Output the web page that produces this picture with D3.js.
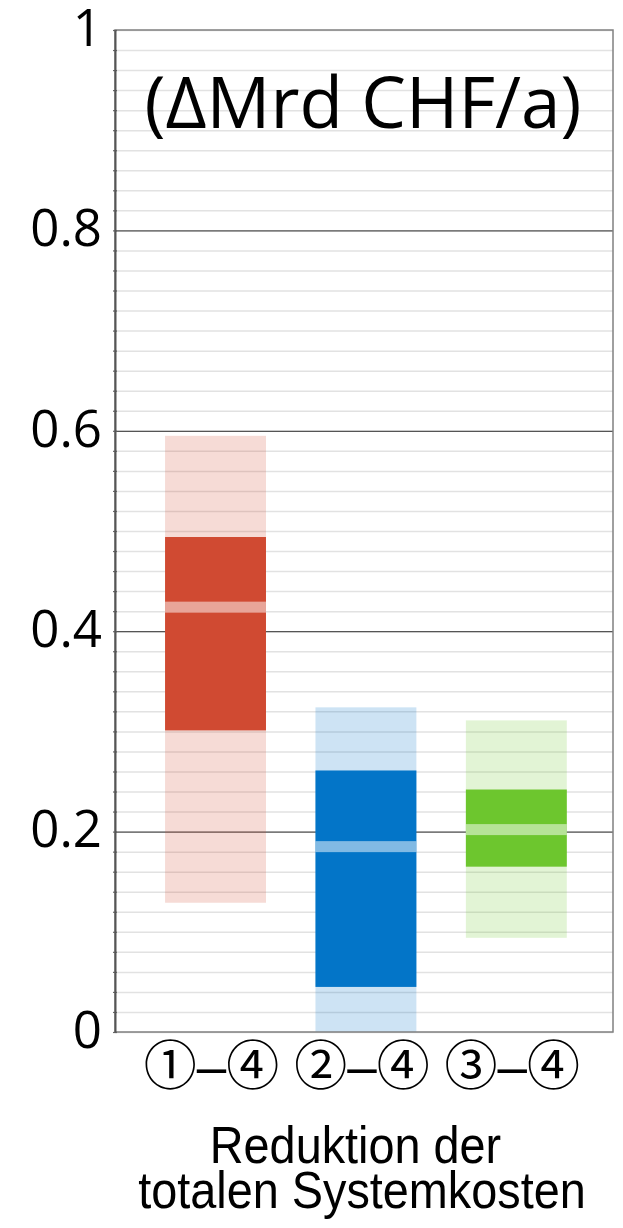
<!DOCTYPE html>
<html>
<head>
<meta charset="utf-8">
<script src="https://cdn.jsdelivr.net/npm/d3@7"></script>
<style>
  body { margin: 0; background: #fff; }
</style>
</head>
<body>
<div id="canvas"></div>
<script>
// categories and ranges (Mrd CHF/a)
var categories = ["①–④", "②–④", "③–④"];
var rangeLow = [0.129, 0.0, 0.094];
var rangeHigh = [0.595, 0.324, 0.311];
var coreLow = [0.301, 0.045, 0.165];
var coreHigh = [0.494, 0.261, 0.242];
var median = [0.424, 0.185, 0.202];
var yTicks = [0, 0.2, 0.4, 0.6, 0.8, 1];
var majorLines = [0.2, 0.4, 0.6, 0.8];
var unitLabel = "(ΔMrd CHF/a)";
var axisTitle = ["Reduktion der", "totalen Systemkosten"];

var colors = ["#D04A32", "#0375C8", "#6DC62E"];

var W = 623, H = 1228;
var margin = { top: 30, right: 10, bottom: 196, left: 115 };
var width = W - margin.left - margin.right;
var height = H - margin.top - margin.bottom;

var rows = categories.map(function (c, i) {
  return { cat: c, lo: rangeLow[i], hi: rangeHigh[i], clo: coreLow[i], chi: coreHigh[i], med: median[i], color: colors[i] };
});

var svg = d3.select("#canvas").append("svg")
  .attr("width", W)
  .attr("height", H);

var g = svg.append("g")
  .attr("transform", "translate(" + margin.left + "," + margin.top + ")");

var x = d3.scaleBand().domain(categories).range([0, width])
  .paddingInner(0.329).paddingOuter(0.32).align(0.52);
var y = d3.scaleLinear().domain([0, 1]).range([height, 0]);

// minor gridlines every 0.02
g.append("g")
  .call(d3.axisLeft(y).ticks(50).tickSize(-width).tickFormat(""))
  .call(function (s) {
    s.select(".domain").remove();
    s.selectAll("line").attr("stroke", "#e2e2e2").attr("stroke-width", 1.5);
  });

// major gridlines
g.append("g")
  .call(d3.axisLeft(y).tickValues(majorLines).tickSize(-width).tickFormat(""))
  .call(function (s) {
    s.select(".domain").remove();
    s.selectAll("line").attr("stroke", "#555").attr("stroke-width", 1.2);
  });

// outer range (translucent)
g.selectAll(".range").data(rows).enter().append("rect")
  .attr("class", "range")
  .attr("x", function (d) { return x(d.cat); })
  .attr("width", x.bandwidth())
  .attr("y", function (d) { return y(d.hi); })
  .attr("height", function (d) { return y(d.lo) - y(d.hi); })
  .attr("fill", function (d) { return d.color; })
  .attr("fill-opacity", 0.2);

// core range
g.selectAll(".core").data(rows).enter().append("rect")
  .attr("class", "core")
  .attr("x", function (d) { return x(d.cat); })
  .attr("width", x.bandwidth())
  .attr("y", function (d) { return y(d.chi); })
  .attr("height", function (d) { return y(d.clo) - y(d.chi); })
  .attr("fill", function (d) { return d.color; });

// median band
g.selectAll(".med").data(rows).enter().append("rect")
  .attr("class", "med")
  .attr("x", function (d) { return x(d.cat); })
  .attr("width", x.bandwidth())
  .attr("y", function (d) { return y(d.med) - 5.5; })
  .attr("height", 11)
  .attr("fill", "#fff")
  .attr("fill-opacity", 0.5);

// frame
g.append("rect")
  .attr("width", width).attr("height", height)
  .attr("fill", "none").attr("stroke", "#808080").attr("stroke-width", 1.5);

// small ticks across the left axis
g.append("g")
  .attr("transform", "translate(2,0)")
  .call(d3.axisLeft(y).ticks(50).tickSize(4).tickFormat(""))
  .call(function (s) {
    s.select(".domain").remove();
    s.selectAll("line").attr("stroke", "#666").attr("stroke-width", 1.2);
  });

// y axis with labels
g.append("g")
  .call(d3.axisLeft(y).tickValues(yTicks).tickSize(0).tickPadding(13)
    .tickFormat(function (d) { return d3.format("~g")(d); }))
  .call(function (s) {
    s.select(".domain").attr("stroke", "#555").attr("stroke-width", 2);
    s.selectAll("text")
      .attr("dy", "0.3em")
      .attr("font-family", "'Open Sans', sans-serif")
      .attr("font-size", 51)
      .attr("fill", "#000");
  });

// unit label inside the plot
g.append("text")
  .attr("x", width / 2 - 1)
  .attr("y", 98)
  .attr("text-anchor", "middle")
  .attr("font-family", "'Open Sans', sans-serif")
  .attr("font-size", 71)
  .attr("fill", "#000")
  .text(unitLabel);

// category labels
g.selectAll(".cat").data(categories).enter().append("text")
  .attr("class", "cat")
  .attr("x", function (d) { return x(d) + x.bandwidth() / 2 - 4; })
  .attr("y", height + 34)
  .attr("dy", "0.35em")
  .attr("text-anchor", "middle")
  .attr("font-family", "'Liberation Sans', 'Noto Sans CJK JP', sans-serif")
  .attr("font-size", 53)
  .attr("fill", "#000")
  .text(function (d) { return d; });

// axis title (slightly condensed, like the original; first line keeps its trailing space)
g.selectAll(".atitle").data(axisTitle).enter().append("text")
  .attr("class", "atitle")
  .attr("x", width / 2 - 2)
  .attr("y", function (d, i) { return height + 131 + i * 45; })
  .attr("text-anchor", "middle")
  .attr("font-family", "'Liberation Sans', Arial, sans-serif")
  .attr("font-size", 52)
  .attr("fill", "#000")
  .text(function (d, i) { return i === 0 ? d + "\u00a0" : d; })
  .each(function () {
    var t = d3.select(this);
    t.attr("textLength", this.getComputedTextLength() * 0.9)
      .attr("lengthAdjust", "spacingAndGlyphs");
  });
</script>
</body>
</html>
